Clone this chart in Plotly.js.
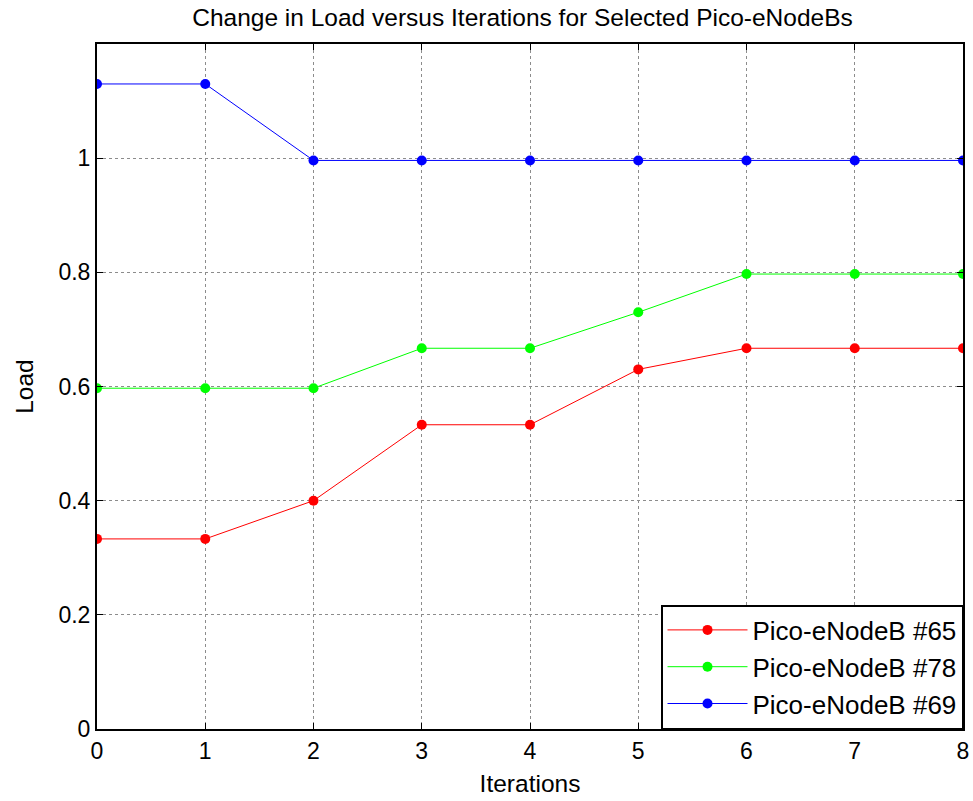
<!DOCTYPE html>
<html>
<head>
<meta charset="utf-8">
<script src="https://cdn.plot.ly/plotly-3.0.1.min.js"></script>
<style>html,body{margin:0;padding:0;background:#fff;}#chart{width:973px;height:801px;}</style>
</head>
<body>
<div id="chart"></div>
<script>
const iterations = [0, 1, 2, 3, 4, 5, 6, 7, 8];
const load65 = [0.333, 0.333, 0.4, 0.533, 0.533, 0.63, 0.667, 0.667, 0.667];
const load78 = [0.597, 0.597, 0.597, 0.667, 0.667, 0.73, 0.797, 0.797, 0.797];
const load69 = [1.13, 1.13, 0.996, 0.996, 0.996, 0.996, 0.996, 0.996, 0.996];
const seriesNames = ['Pico-eNodeB #65', 'Pico-eNodeB #78', 'Pico-eNodeB #69'];
const seriesColors = ['#ff0000', '#00ff00', '#0000ff'];
const seriesData = [load65, load78, load69];
const yTicks = [0, 0.2, 0.4, 0.6, 0.8, 1];

const traces = seriesData.map((ys, i) => ({
  x: iterations, y: ys, type: 'scatter', mode: 'lines+markers',
  name: seriesNames[i],
  line: {color: seriesColors[i], width: 1},
  marker: {color: seriesColors[i], size: 10}
}));

const font = {family: 'Liberation Sans, Arial, sans-serif', color: '#000'};
const layout = {
  width: 973, height: 801,
  margin: {l: 97, r: 10, t: 44, b: 72},
  paper_bgcolor: '#fff', plot_bgcolor: '#fff',
  font: Object.assign({size: 23}, font),
  title: {text: 'Change in Load versus Iterations for Selected Pico-eNodeBs',
          font: Object.assign({size: 24.5}, font), x: 0.537, xanchor: 'center', y: 0.978, yanchor: 'middle'},
  xaxis: {
    range: [0, 8], tickvals: iterations, ticktext: iterations.map(String),
    showgrid: true, gridcolor: '#8c8c8c', griddash: 'dot', gridwidth: 1,
    showline: true, linecolor: '#000', linewidth: 2, mirror: 'ticks',
    ticks: 'inside', ticklen: 6, tickcolor: '#000', zeroline: false,
    tickfont: Object.assign({size: 23}, font),
    title: {text: 'Iterations', font: Object.assign({size: 24.5}, font), standoff: 12}
  },
  yaxis: {
    range: [0, 1.2], tickvals: yTicks, ticktext: yTicks.map(String),
    showgrid: true, gridcolor: '#8c8c8c', griddash: 'dot', gridwidth: 1,
    showline: true, linecolor: '#000', linewidth: 2, mirror: 'ticks',
    ticks: 'inside', ticklen: 6, tickcolor: '#000', zeroline: false,
    tickfont: Object.assign({size: 23}, font),
    title: {text: 'Load', font: Object.assign({size: 24.5}, font), standoff: 18}
  },
  legend: {
    x: 1, y: 0, xanchor: 'right', yanchor: 'bottom',
    bgcolor: '#fff', bordercolor: '#000', borderwidth: 1.5,
    font: Object.assign({size: 26}, font), itemwidth: 80, tracegroupgap: 0
  },
  showlegend: true
};
Plotly.newPlot('chart', traces, layout, {displayModeBar: false, staticPlot: true});
</script>
</body>
</html>
